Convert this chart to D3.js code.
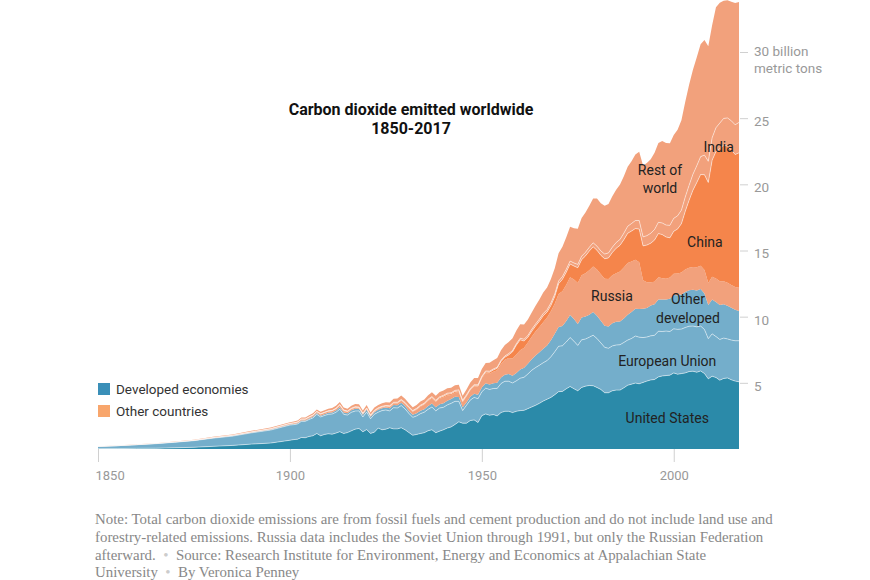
<!DOCTYPE html>
<html>
<head>
<meta charset="utf-8">
<script src="https://cdn.jsdelivr.net/npm/d3@7"></script>
<style>
  body { margin: 0; background: #fff; }
  svg { display: block; font-family: Roboto, "Liberation Sans", sans-serif; }
</style>
</head>
<body>
<svg id="chart" width="870" height="580"></svg>
<script>
// Years: every 5 years before 1900, then yearly
const years = [1850, 1855, 1860, 1865, 1870, 1875, 1880, 1885, 1890, 1895]
  .concat(d3.range(1900, 2018));

// Billion metric tons of CO2
const unitedStates = [
  0.02,0.03,0.05,0.06,0.09,0.13,0.20,0.27,0.37,0.45,
  0.66,0.71,0.74,0.87,0.85,0.95,1.00,1.17,1.00,1.10,
  1.15,1.12,1.20,1.31,1.17,1.24,1.37,1.50,1.55,1.30,
  1.47,1.18,1.27,1.58,1.45,1.50,1.60,1.52,1.52,1.60,
  1.45,1.24,1.04,1.10,1.17,1.23,1.38,1.45,1.23,1.35,
  1.45,1.58,1.67,1.85,2.05,1.95,1.95,2.15,2.20,2.00,
  2.52,2.65,2.55,2.60,2.50,2.75,2.85,2.85,2.75,2.85,
  2.90,2.92,3.05,3.18,3.30,3.45,3.62,3.76,3.90,4.10,
  4.33,4.35,4.55,4.72,4.55,4.40,4.65,4.75,4.80,4.78,
  4.65,4.50,4.25,4.25,4.40,4.45,4.45,4.62,4.82,4.90,
  4.98,4.93,5.03,5.13,5.22,5.25,5.45,5.52,5.55,5.58,
  5.75,5.65,5.70,5.75,5.85,5.88,5.80,5.90,5.70,5.30,
  5.50,5.40,5.20,5.33,5.37,5.23,5.13,5.08
];
const europeanUnion = [
  0.17,0.22,0.27,0.34,0.42,0.50,0.62,0.70,0.85,0.98,
  1.15,1.13,1.15,1.22,1.24,1.28,1.35,1.45,1.42,1.43,
  1.47,1.52,1.57,1.70,1.45,1.32,1.40,1.37,1.33,1.12,
  1.32,1.10,1.35,1.20,1.45,1.45,1.28,1.60,1.58,1.68,
  1.58,1.45,1.35,1.40,1.50,1.55,1.62,1.72,1.65,1.75,
  1.70,1.75,1.78,1.75,1.55,0.95,1.35,1.55,1.70,1.80,
  1.80,1.95,1.95,1.97,2.08,2.20,2.27,2.27,2.24,2.30,
  2.45,2.50,2.62,2.77,2.85,2.88,2.90,2.92,3.07,3.25,
  3.43,3.45,3.54,3.70,3.60,3.43,3.60,3.56,3.65,3.82,
  3.70,3.52,3.43,3.36,3.39,3.41,3.43,3.43,3.41,3.45,
  3.56,3.52,3.39,3.33,3.33,3.34,3.45,3.36,3.36,3.30,
  3.33,3.39,3.36,3.43,3.43,3.41,3.43,3.39,3.33,3.04,
  3.20,3.10,3.08,3.05,2.95,3.00,3.05,3.10
];
const otherDeveloped = [
  0.00,0.00,0.01,0.01,0.01,0.02,0.02,0.03,0.03,0.04,
  0.05,0.05,0.06,0.07,0.07,0.08,0.09,0.10,0.10,0.10,
  0.12,0.12,0.13,0.15,0.14,0.14,0.15,0.17,0.17,0.16,
  0.18,0.15,0.16,0.19,0.18,0.18,0.20,0.20,0.21,0.22,
  0.21,0.19,0.19,0.20,0.22,0.23,0.25,0.27,0.27,0.28,
  0.30,0.32,0.33,0.34,0.33,0.25,0.22,0.25,0.28,0.30,
  0.33,0.37,0.38,0.40,0.42,0.45,0.50,0.55,0.55,0.60,
  0.65,0.72,0.77,0.84,0.92,0.98,1.05,1.15,1.25,1.35,
  1.45,1.50,1.58,1.70,1.68,1.62,1.68,1.70,1.70,1.75,
  1.72,1.67,1.63,1.65,1.72,1.75,1.75,1.82,1.92,2.00,
  2.05,2.12,2.18,2.20,2.30,2.35,2.40,2.42,2.38,2.48,
  2.55,2.58,2.62,2.68,2.72,2.75,2.75,2.80,2.72,2.55,
  2.60,2.60,2.60,2.55,2.50,2.45,2.35,2.25
];
const russia = [
  0.00,0.00,0.00,0.01,0.01,0.01,0.02,0.03,0.04,0.05,
  0.06,0.07,0.07,0.08,0.08,0.08,0.09,0.09,0.10,0.10,
  0.10,0.11,0.12,0.13,0.12,0.10,0.09,0.08,0.04,0.04,
  0.04,0.04,0.05,0.05,0.06,0.07,0.09,0.10,0.12,0.14,
  0.17,0.20,0.23,0.25,0.30,0.33,0.37,0.38,0.40,0.42,
  0.45,0.40,0.30,0.32,0.38,0.40,0.45,0.50,0.55,0.62,
  0.70,0.75,0.80,0.87,0.95,1.03,1.12,1.20,1.30,1.40,
  1.47,1.52,1.60,1.70,1.80,1.90,2.00,2.10,2.18,2.27,
  2.50,2.62,2.74,2.86,2.98,3.10,3.20,3.28,3.36,3.45,
  3.50,3.52,3.55,3.58,3.62,3.68,3.78,3.85,3.90,3.82,
  3.72,3.55,2.15,1.95,1.75,1.70,1.68,1.60,1.58,1.60,
  1.62,1.65,1.65,1.70,1.70,1.72,1.75,1.75,1.78,1.65,
  1.72,1.78,1.80,1.75,1.75,1.72,1.72,1.75
];
const china = [
  0.00,0.00,0.00,0.00,0.00,0.00,0.00,0.00,0.00,0.00,
  0.00,0.00,0.01,0.01,0.01,0.01,0.01,0.01,0.02,0.02,
  0.02,0.02,0.02,0.03,0.03,0.03,0.03,0.03,0.04,0.04,
  0.04,0.04,0.04,0.04,0.04,0.04,0.05,0.05,0.05,0.05,
  0.05,0.05,0.05,0.06,0.06,0.06,0.07,0.07,0.06,0.07,
  0.08,0.09,0.09,0.09,0.08,0.05,0.05,0.05,0.05,0.05,
  0.08,0.10,0.12,0.13,0.15,0.18,0.20,0.24,0.50,0.70,
  0.78,0.50,0.40,0.40,0.42,0.45,0.50,0.42,0.45,0.55,
  0.78,0.90,0.95,1.00,1.02,1.15,1.18,1.30,1.45,1.48,
  1.45,1.43,1.52,1.60,1.72,1.88,1.98,2.10,2.25,2.30,
  2.35,2.50,2.60,2.80,2.95,3.15,3.30,3.30,3.15,3.00,
  3.20,3.35,3.70,4.40,5.10,5.80,6.40,6.90,7.20,7.60,
  8.80,9.60,10.00,10.30,10.30,10.20,10.00,10.20
];
const india = [
  0.00,0.00,0.00,0.00,0.00,0.00,0.01,0.01,0.01,0.02,
  0.02,0.02,0.02,0.02,0.02,0.03,0.03,0.03,0.03,0.03,
  0.03,0.03,0.04,0.04,0.04,0.04,0.04,0.05,0.05,0.05,
  0.05,0.05,0.05,0.05,0.05,0.05,0.05,0.06,0.06,0.06,
  0.06,0.06,0.05,0.06,0.06,0.06,0.07,0.07,0.07,0.07,
  0.08,0.08,0.08,0.08,0.08,0.08,0.08,0.08,0.08,0.08,
  0.07,0.08,0.08,0.08,0.08,0.09,0.09,0.10,0.10,0.11,
  0.12,0.13,0.14,0.15,0.15,0.16,0.17,0.18,0.19,0.19,
  0.20,0.21,0.22,0.22,0.23,0.25,0.26,0.27,0.28,0.30,
  0.31,0.33,0.35,0.38,0.40,0.43,0.45,0.49,0.53,0.57,
  0.60,0.64,0.68,0.71,0.75,0.80,0.85,0.88,0.90,0.94,
  0.98,1.00,1.02,1.08,1.13,1.20,1.27,1.35,1.48,1.60,
  1.70,1.80,1.95,2.00,2.15,2.20,2.25,2.30
];
const restOfWorld = [
  0.01,0.01,0.02,0.02,0.03,0.04,0.05,0.06,0.07,0.08,
  0.09,0.10,0.10,0.11,0.11,0.12,0.13,0.14,0.14,0.15,
  0.16,0.17,0.18,0.20,0.19,0.18,0.19,0.20,0.20,0.19,
  0.22,0.20,0.21,0.22,0.23,0.24,0.25,0.26,0.27,0.29,
  0.28,0.26,0.25,0.26,0.28,0.29,0.31,0.33,0.34,0.36,
  0.37,0.38,0.37,0.38,0.38,0.35,0.40,0.45,0.50,0.52,
  0.55,0.60,0.63,0.66,0.70,0.76,0.82,0.88,0.93,1.00,
  1.05,1.12,1.20,1.28,1.38,1.48,1.58,1.68,1.80,1.95,
  2.10,2.25,2.42,2.60,2.62,2.70,2.88,3.02,3.15,3.35,
  3.60,3.60,3.65,3.70,3.85,4.00,4.15,4.30,4.50,4.70,
  5.00,5.20,5.40,5.50,5.60,5.80,6.00,6.20,6.20,6.20,
  6.30,6.50,6.80,7.20,7.60,7.90,8.20,8.50,8.70,8.70,
  8.50,9.10,9.10,8.90,8.90,9.00,9.20,9.10
];

const seriesKeys = ["United States", "European Union", "Other developed", "Russia", "China", "India", "Rest of world"];
const seriesValues = [unitedStates, europeanUnion, otherDeveloped, russia, china, india, restOfWorld];
const seriesColors = ["#2b8aa9", "#74aecb", "#74aecb", "#f2a17c", "#f5854b", "#f2a17c", "#f2a17c"];

const xTicks = [1850, 1900, 1950, 2000];
const yTicks = [5, 10, 15, 20, 25, 30];

const legendItems = [
  { label: "Developed economies", color: "#3a8fb8" },
  { label: "Other countries", color: "#f8a66c" }
];

// label anchors in data space: [year, value]
const areaLabels = [
  { lines: ["United States"], at: [1998.3, 2.3] },
  { lines: ["European Union"], at: [1998.3, 6.65] },
  { lines: ["Other", "developed"], at: [2003.7, 10.6] },
  { lines: ["Russia"], at: [1983.9, 11.55] },
  { lines: ["China"], at: [2008.1, 15.65] },
  { lines: ["Rest of", "world"], at: [1996.4, 20.4] },
  { lines: ["India"], at: [2011.7, 22.8] }
];

const noteLines = [
  [["Note: Total carbon dioxide emissions are from fossil fuels and cement production and do not include land use and", false]],
  [["forestry-related emissions. Russia data includes the Soviet Union through 1991, but only the Russian Federation", false]],
  [["afterward.", false], ["  •  ", true], ["Source: Research Institute for Environment, Energy and Economics at Appalachian State", false]],
  [["University", false], ["  •  ", true], ["By Veronica Penney", false]]
];

// build rows for the stack
const rows = years.map((yr, i) => {
  const r = { year: yr };
  seriesKeys.forEach((k, j) => { r[k] = seriesValues[j][i]; });
  return r;
});

const svg = d3.select("#chart");

const x = d3.scaleLinear().domain([1850, 2017]).range([98, 739]);
const y = d3.scaleLinear().domain([0, 30]).range([449, 52]);

const stacked = d3.stack().keys(seriesKeys)(rows);

const area = d3.area()
  .x(d => x(d.data.year))
  .y0(d => y(d[0]))
  .y1(d => y(d[1]));

const topLine = d3.line()
  .x(d => x(d.data.year))
  .y(d => y(d[1]));

svg.append("g")
  .selectAll("path")
  .data(stacked)
  .join("path")
  .attr("d", area)
  .attr("fill", (d, i) => seriesColors[i]);

// thin white separators between layers
svg.append("g")
  .selectAll("path")
  .data(stacked.slice(0, -1))
  .join("path")
  .attr("d", topLine)
  .attr("fill", "none")
  .attr("stroke", "#fff")
  .attr("stroke-opacity", (d, i) => (i === 2 || i === 3) ? 0 : 0.55)
  .attr("stroke-width", 0.9);

// x axis
const xAxis = svg.append("g")
  .attr("transform", `translate(0,${y(0)})`)
  .call(d3.axisBottom(x).tickValues(xTicks).tickFormat(d3.format("d")).tickSize(13).tickPadding(9));
xAxis.select(".domain").remove();
xAxis.selectAll(".tick line").attr("stroke", "#d0d0d0");
xAxis.selectAll(".tick text")
  .attr("fill", "#999")
  .attr("font-size", 13)
  .attr("font-family", "Roboto, 'Liberation Sans', sans-serif")
  .attr("text-anchor", d => d === 1850 ? "start" : "middle")
  .attr("dx", d => d === 1850 ? -3 : 0);

// y axis on the right
const yAxis = svg.append("g")
  .attr("transform", `translate(${x(2017) + 1},0)`)
  .call(d3.axisRight(y).tickValues(yTicks).tickSize(8).tickPadding(6)
    .tickFormat(d => d === 30 ? "30 billion" : d));
yAxis.select(".domain").remove();
yAxis.selectAll(".tick line").attr("stroke", "#d0d0d0");
yAxis.selectAll(".tick text")
  .attr("fill", "#999")
  .attr("font-size", 13.5)
  .attr("dy", d => d === 30 ? "0.27em" : "0.55em")
  .attr("font-family", "Roboto, 'Liberation Sans', sans-serif");
yAxis.selectAll(".tick").filter(d => d === 30)
  .append("text")
  .attr("x", 14)
  .attr("dy", "1.52em")
  .attr("fill", "#999")
  .attr("font-size", 13.5)
  .attr("font-family", "Roboto, 'Liberation Sans', sans-serif")
  .text("metric tons");

// area labels
svg.append("g")
  .selectAll("text")
  .data(areaLabels)
  .join("text")
  .attr("text-anchor", "middle")
  .attr("font-size", 14)
  .attr("fill", "#222")
  .attr("transform", d => `translate(${x(d.at[0])},${y(d.at[1])})`)
  .selectAll("tspan")
  .data(d => d.lines.map((t, i, a) => ({ t, i, n: a.length })))
  .join("tspan")
  .attr("x", 0)
  .attr("y", d => (d.i - (d.n - 1) / 2) * 18.5)
  .attr("dy", "0.35em")
  .text(d => d.t);

// title
svg.append("text")
  .attr("x", 411).attr("y", 115)
  .attr("text-anchor", "middle")
  .attr("font-weight", "bold")
  .attr("font-size", 16)
  .attr("fill", "#111")
  .text("Carbon dioxide emitted worldwide");
svg.append("text")
  .attr("x", 411).attr("y", 134)
  .attr("text-anchor", "middle")
  .attr("font-weight", "bold")
  .attr("font-size", 16)
  .attr("fill", "#111")
  .text("1850-2017");

// legend
const legend = svg.append("g").attr("transform", "translate(98,383)");
legend.selectAll("rect")
  .data(legendItems)
  .join("rect")
  .attr("x", 0).attr("y", (d, i) => i * 22)
  .attr("width", 12).attr("height", 12)
  .attr("fill", d => d.color);
legend.selectAll("text")
  .data(legendItems)
  .join("text")
  .attr("x", 18).attr("y", (d, i) => i * 22 + 6)
  .attr("dy", "0.35em")
  .attr("font-size", 13.5)
  .attr("fill", "#333")
  .text(d => d.label);

// footnote
const note = svg.append("g")
  .attr("font-family", "'Liberation Serif', 'DejaVu Serif', serif")
  .attr("font-size", 14.9)
  .attr("fill", "#888");
note.selectAll("text")
  .data(noteLines)
  .join("text")
  .attr("x", 95)
  .attr("y", (d, i) => 524 + i * 17.8)
  .attr("xml:space", "preserve")
  .selectAll("tspan")
  .data(d => d)
  .join("tspan")
  .attr("fill", d => d[1] ? "#ccc" : "#888")
  .text(d => d[0]);
</script>
</body>
</html>
